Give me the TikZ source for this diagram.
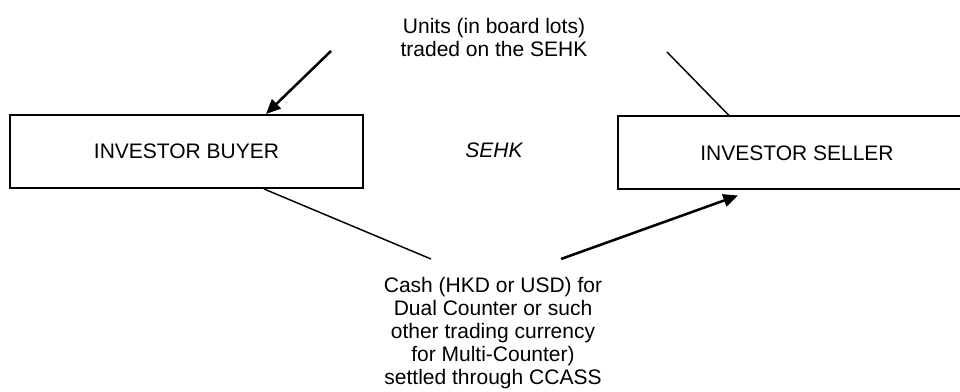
\documentclass[tikz,border=0pt]{standalone}
\usepackage{fontspec}
\setmainfont{Liberation Sans}
\usetikzlibrary{arrows.meta,calc}
\begin{document}
\begin{tikzpicture}[x=0.75pt,y=-0.75pt,
  every node/.style={font=\fontsize{15.75}{17.25}\selectfont, inner sep=0pt},
  partybox/.style={draw, line width=1.5pt, minimum height=54.75pt},
  flowline/.style={line width=1.1pt},
  flowarrow/.style={line width=1.9pt, -{Triangle[length=11pt,width=9.5pt]}},
  label/.style={align=center}]
\useasboundingbox (0,0) rectangle (960,392);
\node[partybox, minimum width=264.75pt] (buyer) at (186.5,151.5) {INVESTOR BUYER};
\node[partybox, minimum width=268.5pt] (seller) at (797,153) {INVESTOR SELLER};
\node (sehk) at (494,150) {\itshape SEHK};
\node[label] (units) at (494,37) {Units (in board lots)\\traded on the SEHK};
\node[label] (cash) at (493,333) {Cash (HKD or USD) for\\Dual Counter or such\\other trading currency\\for Multi-Counter)\\settled through CCASS};
\coordinate (u1) at (331,51);
\coordinate (u2) at (667,52);
\coordinate (c1) at (431,259);
\coordinate (c2) at (561,259);
\draw[flowarrow] (u1) -- ($(buyer.north west)+(257,0)$);
\draw[flowline] (u2) -- ($(seller.north west)+(112,0)$);
\draw[flowline] ($(buyer.south west)+(255,0)$) -- (c1);
\draw[flowarrow] (c2) -- ($(seller.south west)+(121,5)$);
\end{tikzpicture}
\end{document}
